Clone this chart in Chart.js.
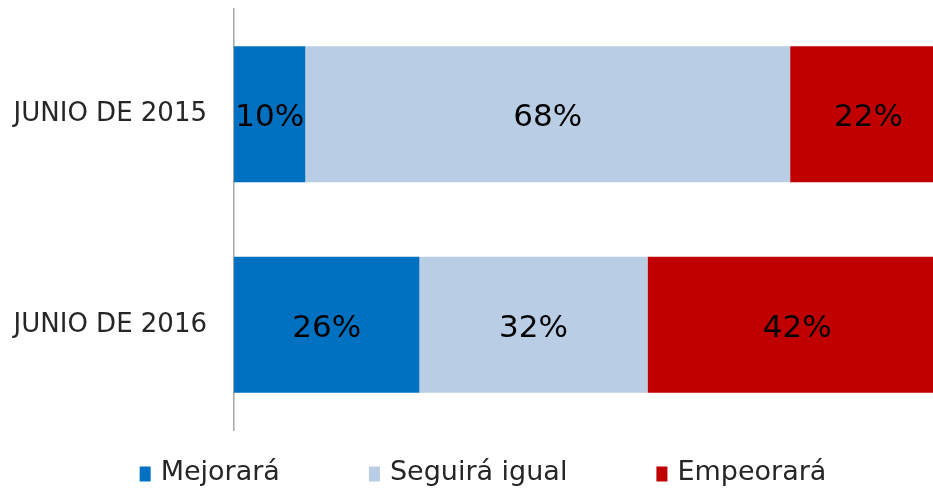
<!DOCTYPE html>
<html>
<head>
<meta charset="utf-8">
<script src="https://cdn.jsdelivr.net/npm/chart.js@4"></script>
<style>
  html, body { margin: 0; padding: 0; background: #fff; }
  #wrap { width: 933px; height: 490px; overflow: hidden; }
</style>
</head>
<body>
<div id="wrap"><canvas id="chart" width="947" height="490"></canvas></div>
<script>
var categories = ['JUNIO DE 2015', 'JUNIO DE 2016'];
var seriesNames = ['Mejorará', 'Seguirá igual', 'Empeorará'];
var mejorara = [10, 26];
var seguiraIgual = [68, 32];
var empeorara = [22, 42];
var seriesColors = ['#0070C0', '#B9CDE5', '#C00000'];

var FONT = "'DejaVu Sans', sans-serif";

// etiquetas de porcentaje dentro de cada segmento
var valueLabels = {
    id: 'valueLabels',
    afterDatasetsDraw: function (chart) {
        var ctx = chart.ctx;
        ctx.save();
        ctx.font = '31px ' + FONT;
        ctx.fillStyle = '#000';
        ctx.textAlign = 'center';
        ctx.textBaseline = 'middle';
        chart.data.datasets.forEach(function (ds, i) {
            chart.getDatasetMeta(i).data.forEach(function (bar, j) {
                ctx.fillText(ds.data[j] + '%', (bar.x + bar.base) / 2, bar.y + 4);
            });
        });
        ctx.restore();
    }
};

// leyenda inferior con el espaciado del original
var bottomLegend = {
    id: 'bottomLegend',
    afterDraw: function (chart) {
        var ctx = chart.ctx;
        var gap = 89, boxW = 11, boxH = 15, boxGap = 10;
        ctx.save();
        ctx.font = '27px ' + FONT;
        ctx.textBaseline = 'middle';
        var widths = chart.data.datasets.map(function (ds) {
            return boxW + boxGap + ctx.measureText(ds.label).width;
        });
        var total = widths.reduce(function (a, b) { return a + b; }, 0) + gap * (widths.length - 1);
        var x = 483 - total / 2;
        var y = 473;
        chart.data.datasets.forEach(function (ds, i) {
            ctx.fillStyle = ds.backgroundColor;
            ctx.fillRect(x, y - boxH / 2 + 1, boxW, boxH);
            ctx.fillStyle = '#262626';
            ctx.fillText(ds.label, x + boxW + boxGap, y);
            x += widths[i] + gap;
        });
        ctx.restore();
    }
};

var ctx = document.getElementById('chart');
var chart = new Chart(ctx, {
    type: 'bar',
    data: {
        labels: categories,
        datasets: [
            { label: seriesNames[0], data: mejorara, backgroundColor: seriesColors[0] },
            { label: seriesNames[1], data: seguiraIgual, backgroundColor: seriesColors[1] },
            { label: seriesNames[2], data: empeorara, backgroundColor: seriesColors[2] }
        ]
    },
    options: {
        indexAxis: 'y',
        responsive: false,
        animation: false,
        layout: { padding: { top: 9, bottom: 60, left: 0, right: 0 } },
        datasets: {
            bar: { barPercentage: 0.645, categoryPercentage: 1, borderWidth: 0 }
        },
        scales: {
            x: { stacked: true, min: 0, max: 100, display: false },
            y: {
                stacked: true,
                grid: { display: false, drawTicks: false },
                border: { display: true, color: '#A6A6A6', width: 1.5 },
                ticks: { color: '#262626', padding: 27, font: { family: FONT, size: 26 } },
                afterFit: function (scale) {
                    scale.width = 234;
                    scale.paddingTop = 0;
                    scale.paddingBottom = 0;
                }
            }
        },
        plugins: {
            legend: { display: false },
            tooltip: { enabled: false }
        }
    },
    plugins: [valueLabels, bottomLegend]
});
</script>
</body>
</html>
